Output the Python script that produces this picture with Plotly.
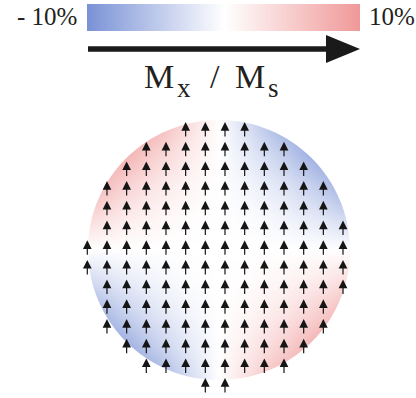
import plotly.graph_objects as go

# ---------------- data ----------------
cbar_values = [-10, -5, 0, 5, 10]            # colour bar, Mx/Ms in %
cbar_labels = ["- 10%", "10%"]
label_main = ["M", "M"]
label_sub = ["x", "s"]

# Mx/Ms (%) read from the disc, sampled on a normalised grid (u right, v up)
field_u = [-1, -0.75, -0.5, -0.25, 0, 0.25, 0.5, 0.75, 1]
field_v = [1, 0.75, 0.5, 0.25, 0, -0.25, -0.5, -0.75, -1]
mx_percent = [
    [8.0, 8.0, 7.8, 3.6, 0.0, -3.6, -7.8, -8.0, -8.0],
    [8.0, 8.0, 4.7, 2.1, 0.0, -2.1, -4.7, -8.0, -8.0],
    [7.8, 4.7, 2.5, 1.0, 0.0, -1.0, -2.5, -4.7, -7.8],
    [3.6, 2.1, 1.0, 0.3, 0.0, -0.3, -1.0, -2.1, -3.6],
    [0.0, 0.0, 0.0, 0.0, 0.0, 0.0, 0.0, 0.0, 0.0],
    [-3.6, -2.1, -1.0, -0.3, 0.0, 0.3, 1.0, 2.1, 3.6],
    [-7.8, -4.7, -2.5, -1.0, 0.0, 1.0, 2.5, 4.7, 7.8],
    [-8.0, -8.0, -4.7, -2.1, 0.0, 2.1, 4.7, 8.0, 8.0],
    [-8.0, -8.0, -7.8, -3.6, 0.0, 3.6, 7.8, 8.0, 8.0],
]

# magnetisation arrows (all pointing up): first / last grid column in each grid row
arrow_first_col = [5, 3, 2, 1, 1, 1, 0, 0, 1, 1, 1, 2, 3, 6]
arrow_last_col = [8, 10, 11, 12, 12, 13, 13, 13, 13, 12, 12, 11, 10, 7]

# ---------------- layout constants ----------------
W, H = 416, 398
COL_PX, COL0 = 19.67, 87.3      # pixel pitch / position of grid column 0
ROW_PX, ROW0 = 19.7, 129.5      # pixel pitch / position of grid row 0
DISC_CX, DISC_CY = 6.70, 6.12   # disc centre in grid units
DISC_RX, DISC_RY = 6.66, 6.60   # disc radius in grid units
FONT = "Liberation Serif"
TXT = "#231f20"

colorscale = [[0.0, "rgb(122,146,214)"], [0.5, "rgb(255,255,255)"], [1.0, "rgb(240,152,152)"]]


def px(x):
    return x / W


def py(y):
    return 1 - y / H


fig = go.Figure()

# disc field
hx = [DISC_CX + DISC_RX * u for u in field_u]
hy = [DISC_CY - DISC_RY * v for v in field_v]
fig.add_trace(go.Heatmap(
    x=hx, y=hy, z=mx_percent, zmin=-10, zmax=10, zsmooth="best",
    colorscale=colorscale, showscale=False, hoverinfo="skip",
    xaxis="x", yaxis="y"))

# colour bar
fig.add_trace(go.Heatmap(
    x=cbar_values, y=[0], z=[cbar_values], zmin=-10, zmax=10, zsmooth="best",
    colorscale=colorscale, showscale=False, hoverinfo="skip",
    xaxis="x2", yaxis="y2"))

# white mask outside the disc (evenodd: rectangle with circular hole)
k = 0.5523
cx, cy, rx, ry = DISC_CX, DISC_CY, DISC_RX, DISC_RY
circle = (f"M{cx+rx},{cy} "
          f"C{cx+rx},{cy+k*ry} {cx+k*rx},{cy+ry} {cx},{cy+ry} "
          f"C{cx-k*rx},{cy+ry} {cx-rx},{cy+k*ry} {cx-rx},{cy} "
          f"C{cx-rx},{cy-k*ry} {cx-k*rx},{cy-ry} {cx},{cy-ry} "
          f"C{cx+k*rx},{cy-ry} {cx+rx},{cy-k*ry} {cx+rx},{cy} Z")
rect = "M-6,-3 L19,-3 L19,16 L-6,16 Z "
shapes = [dict(type="path", xref="x", yref="y", path=rect + circle,
               fillcolor="white", fillrule="evenodd", line=dict(width=0), layer="above")]

# big arrow under the colour bar
shapes.append(dict(type="rect", xref="paper", yref="paper",
                   x0=px(88), x1=px(330), y0=py(51.8), y1=py(46.2),
                   fillcolor="#1a1a1a", line=dict(width=0), layer="above"))
shapes.append(dict(type="path", xref="paper", yref="paper",
                   path=f"M{px(326)},{py(35)} L{px(360)},{py(49)} L{px(326)},{py(63)} Z",
                   fillcolor="#1a1a1a", line=dict(width=0), layer="above"))

annotations = []
# small magnetisation arrows
for r, (c0, c1) in enumerate(zip(arrow_first_col, arrow_last_col)):
    for c in range(c0, c1 + 1):
        annotations.append(dict(
            xref="x", yref="y", x=c, y=r - 7.5 / ROW_PX, ax=0, ay=16,
            text="", showarrow=True, arrowhead=2, arrowsize=1.45,
            arrowwidth=1.2, arrowcolor="#151515", standoff=0))

# colour bar end labels
annotations.append(dict(xref="paper", yref="paper", x=px(79), y=py(16.5),
                        xanchor="right", yanchor="middle", showarrow=False,
                        text=cbar_labels[0], font=dict(family=FONT, size=25, color=TXT)))
annotations.append(dict(xref="paper", yref="paper", x=px(367), y=py(16.5),
                        xanchor="left", yanchor="middle", showarrow=False,
                        text=cbar_labels[1], font=dict(family=FONT, size=25, color=TXT)))

# "Mx / Ms" label
main_size, sub_size = 34, 27
for (xl, main), (xs, sub) in zip([(142, label_main[0]), (233, label_main[1])],
                                 [(175, label_sub[0]), (266, label_sub[1])]):
    annotations.append(dict(xref="paper", yref="paper", x=px(xl), y=py(88 - 0.35 * main_size),
                            xanchor="left", yanchor="middle", showarrow=False, text=main,
                            font=dict(family=FONT, size=main_size, color=TXT)))
    annotations.append(dict(xref="paper", yref="paper", x=px(xs), y=py(97 - 0.35 * sub_size),
                            xanchor="left", yanchor="middle", showarrow=False, text=sub,
                            font=dict(family=FONT, size=sub_size, color=TXT)))
annotations.append(dict(xref="paper", yref="paper", x=px(215), y=py(88 - 0.35 * main_size),
                        xanchor="center", yanchor="middle", showarrow=False, text="/",
                        font=dict(family=FONT, size=main_size, color=TXT)))

hidden = dict(showgrid=False, zeroline=False, showticklabels=False, ticks="", showline=False)
fig.update_layout(
    width=W, height=H, margin=dict(l=0, r=0, t=0, b=0),
    paper_bgcolor="white", plot_bgcolor="white", showlegend=False,
    xaxis=dict(domain=[0, 1], range=[-COL0 / COL_PX, (W - COL0) / COL_PX], anchor="y", **hidden),
    yaxis=dict(domain=[0, (H - 100) / H], range=[(H - ROW0) / ROW_PX, (100 - ROW0) / ROW_PX],
               anchor="x", **hidden),
    xaxis2=dict(domain=[px(87), px(360)], range=[-10, 10], anchor="y2", **hidden),
    yaxis2=dict(domain=[py(31), py(4)], range=[-0.5, 0.5], anchor="x2", **hidden),
    shapes=shapes, annotations=annotations,
)

fig.write_html("out.html", config={"staticPlot": True},
               post_script="document.body.style.margin='0';document.body.style.overflow='hidden';")
